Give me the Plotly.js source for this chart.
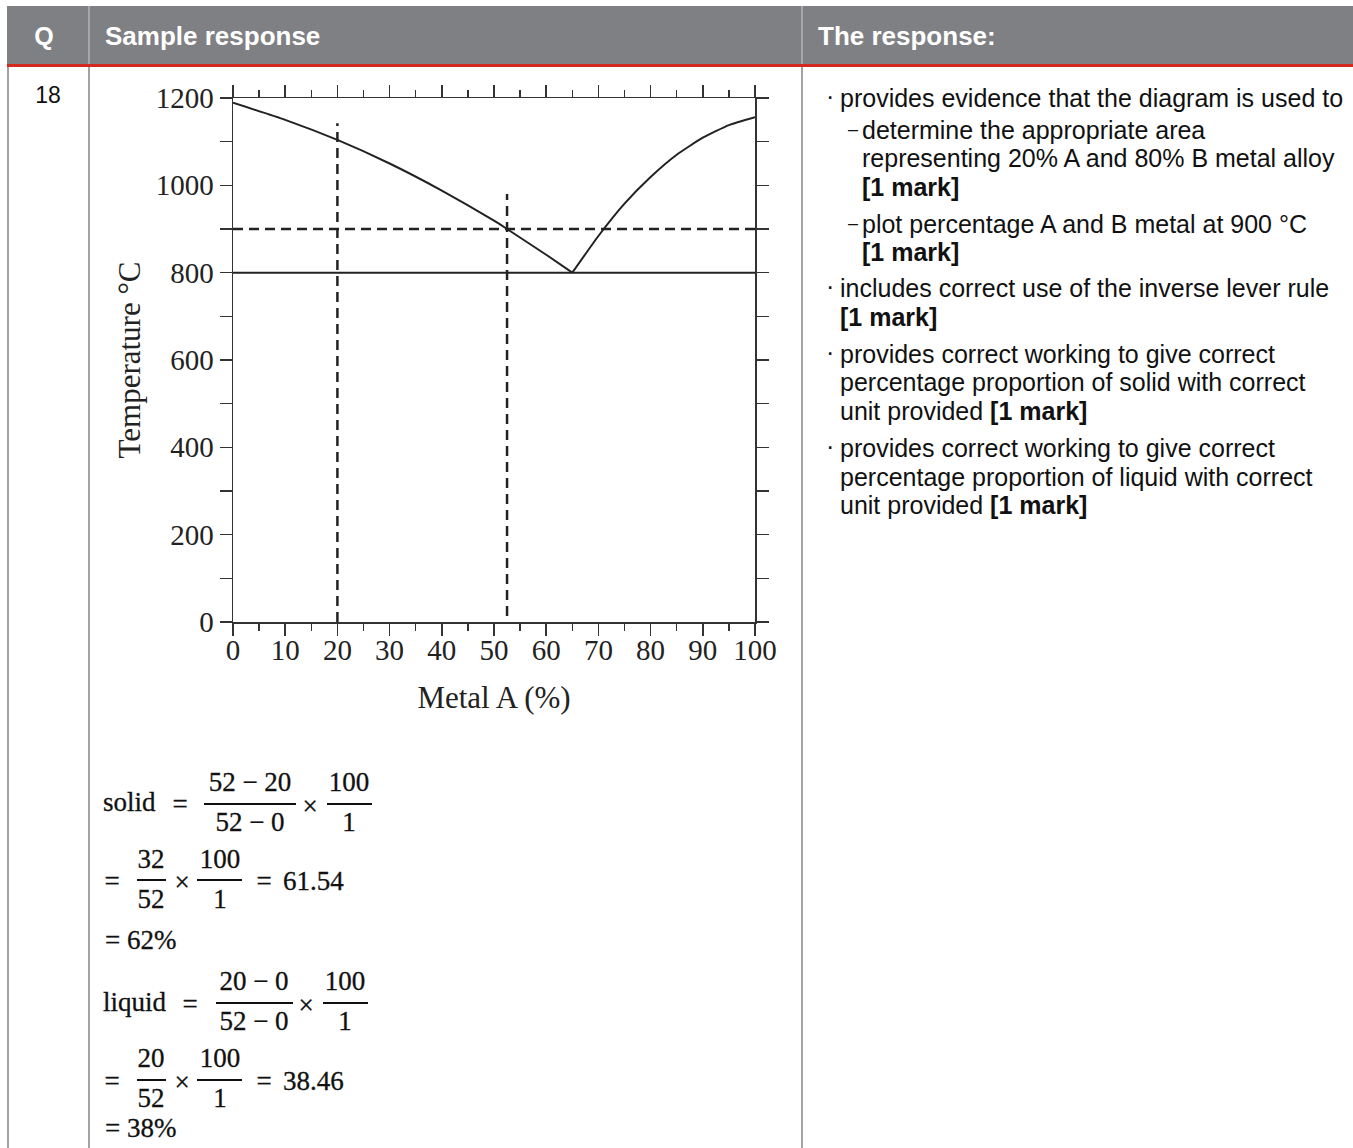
<!DOCTYPE html>
<html><head><meta charset="utf-8">
<script src="https://cdn.plot.ly/plotly-3.0.1.min.js"></script>
<style>
body{margin:0;background:#fff;width:1353px;height:1148px;overflow:hidden;position:relative;font-family:'Liberation Sans',Arial,sans-serif;color:#111;}
.abs{position:absolute;white-space:nowrap;}
.bar{position:absolute;background:#111;height:1.5px;}
</style></head><body>
<div style="position:absolute;left:7px;top:6px;width:1346px;height:58px;background:#7f8084;"></div>
<div style="position:absolute;left:7px;top:64px;width:1346px;height:3px;background:#d4291f;"></div>
<div style="position:absolute;left:88px;top:6px;width:2px;height:58px;background:#a6a7aa;"></div>
<div style="position:absolute;left:801px;top:6px;width:2px;height:58px;background:#a6a7aa;"></div>
<div style="position:absolute;left:7px;top:67px;width:2px;height:1081px;background:#a3a3a6;"></div>
<div style="position:absolute;left:88px;top:67px;width:2px;height:1081px;background:#a3a3a6;"></div>
<div style="position:absolute;left:801px;top:67px;width:2px;height:1081px;background:#a3a3a6;"></div>
<div id="chart" style="position:absolute;left:90px;top:70px;width:710px;height:670px;"></div>
<div id="txt"></div>
<script>
// ---- chart data ----
const liquidusLeftX = [0, 10, 20, 30, 40, 50, 52.5, 60, 65];
const liquidusLeftY = [1189, 1150, 1104, 1050, 988, 919, 900, 841, 800];
const liquidusRightX = [65, 70, 75, 80, 85, 90, 95, 100];
const liquidusRightY = [800, 884, 958, 1019, 1070, 1109, 1138, 1156];
const solidusX = [0, 100];
const solidusY = [800, 800];
const isothermX = [0, 100];
const isothermY = [900, 900];
const alloyLineX = [20, 20];
const alloyLineY = [0, 1142];
const liquidLineX = [52.5, 52.5];
const liquidLineY = [14, 980];
const xTickVals = [0, 10, 20, 30, 40, 50, 60, 70, 80, 90, 100];
const yTickVals = [0, 200, 400, 600, 800, 1000, 1200];

const ink = '#222';
const serif = "'Liberation Serif', 'Times New Roman', serif";
const solid = {color: ink, width: 2};
const dashed = {color: ink, width: 2.5, dash: '10px,6px'};

const traces = [
  {x: liquidusLeftX, y: liquidusLeftY, mode: 'lines', line: Object.assign({shape: 'spline', smoothing: 0.5}, solid)},
  {x: liquidusRightX, y: liquidusRightY, mode: 'lines', line: Object.assign({shape: 'spline', smoothing: 0.5}, solid)},
  {x: solidusX, y: solidusY, mode: 'lines', line: solid},
  {x: isothermX, y: isothermY, mode: 'lines', line: dashed},
  {x: alloyLineX, y: alloyLineY, mode: 'lines', line: dashed},
  {x: liquidLineX, y: liquidLineY, mode: 'lines', line: dashed}
];

const axisCommon = {
  showline: true, linecolor: '#333', linewidth: 1.5, mirror: 'allticks',
  ticks: 'outside', ticklen: 12, tickwidth: 1.5, tickcolor: '#333',
  showgrid: false, zeroline: false, fixedrange: true,
  tickfont: {family: serif, size: 29, color: ink}
};

const layout = {
  width: 710, height: 670,
  margin: {l: 143, r: 45, t: 28, b: 118},
  paper_bgcolor: 'rgba(0,0,0,0)', plot_bgcolor: 'rgba(0,0,0,0)',
  showlegend: false, hovermode: false,
  xaxis: Object.assign({}, axisCommon, {
    range: [0, 100], tickmode: 'array', tickvals: xTickVals, ticklabelstandoff: -10,
    minor: {dtick: 5, tick0: 0, ticks: 'outside', ticklen: 7, tickwidth: 1.5, tickcolor: '#333', showgrid: false},
    title: {text: 'Metal A (%)', font: {family: serif, size: 31, color: ink}, standoff: 21}
  }),
  yaxis: Object.assign({}, axisCommon, {
    range: [0, 1200], tickmode: 'array', tickvals: yTickVals,
    minor: {dtick: 100, tick0: 0, ticks: 'outside', ticklen: 12, tickwidth: 1.5, tickcolor: '#333', showgrid: false},
    title: {text: 'Temperature °C', font: {family: serif, size: 31, color: ink}, standoff: 6}
  })
};
Plotly.newPlot('chart', traces, layout, {staticPlot: true, displayModeBar: false});

// ---- table text ----
const host = document.getElementById('txt');
function put(html, x, yc, o) {
  o = o || {};
  const size = o.size || 25;
  const d = document.createElement('div');
  d.className = 'abs';
  d.innerHTML = html;
  d.style.fontFamily = o.family || "'Liberation Sans', Arial, sans-serif";
  d.style.fontSize = size + 'px';
  d.style.lineHeight = size + 'px';
  d.style.fontWeight = o.weight || 'normal';
  d.style.color = o.color || '#111';
  if (o.stroke) d.style.webkitTextStroke = o.stroke + 'px #111';
  d.style.top = (yc - size * 0.5) + 'px';
  if (o.center) { d.style.left = (x - 150) + 'px'; d.style.width = '300px'; d.style.textAlign = 'center'; }
  else d.style.left = x + 'px';
  host.appendChild(d);
}
function bar(x1, x2, y) {
  const d = document.createElement('div');
  d.className = 'bar';
  d.style.left = x1 + 'px'; d.style.width = (x2 - x1) + 'px'; d.style.top = (y - 0.75) + 'px';
  host.appendChild(d);
}
// header
put('Q', 44, 36, {size: 25, weight: 'bold', color: '#fff', center: true});
put('Sample response', 105, 36, {size: 26, weight: 'bold', color: '#fff'});
put('The response:', 818, 36, {size: 26, weight: 'bold', color: '#fff'});
put('18', 48, 95, {size: 23, center: true});

// right column
const R = {size: 25};
const D = {size: 18};
put('·', 826, 96, R); put('provides evidence that the diagram is used to', 840, 98, R);
put('–', 848, 129, D); put('determine the appropriate area', 862, 130, R);
put('representing 20% A and 80% B metal alloy', 862, 158, R);
put('<b>[1 mark]</b>', 862, 187, R);
put('–', 848, 223, D); put('plot percentage A and B metal at 900 °C', 862, 224, R);
put('<b>[1 mark]</b>', 862, 252, R);
put('·', 826, 286, R); put('includes correct use of the inverse lever rule', 840, 288, R);
put('<b>[1 mark]</b>', 840, 317, R);
put('·', 826, 352, R); put('provides correct working to give correct', 840, 354, R);
put('percentage proportion of solid with correct', 840, 382, R);
put('unit provided <b>[1 mark]</b>', 840, 411, R);
put('·', 826, 446, R); put('provides correct working to give correct', 840, 448, R);
put('percentage proportion of liquid with correct', 840, 477, R);
put('unit provided <b>[1 mark]</b>', 840, 505, R);

// working (math)
const M = {size: 27, family: serif, stroke: 0.3};
const MC = {size: 27, family: serif, stroke: 0.3, center: true};
put('solid', 103, 802, M); put('=', 180, 804, MC);
put('52 − 20', 250, 782, MC); bar(204, 296, 804); put('52 − 0', 250, 822, MC);
put('×', 310, 806, MC);
put('100', 349, 782, MC); bar(327, 372, 804); put('1', 349, 822, MC);

put('=', 112, 881, MC);
put('32', 151, 859, MC); bar(137, 166, 880); put('52', 151, 899, MC);
put('×', 182, 882, MC);
put('100', 220, 859, MC); bar(197, 242, 880); put('1', 220, 899, MC);
put('=', 264, 881, MC); put('61.54', 283, 881, M);

put('= 62%', 105, 940, M);

put('liquid', 103, 1002, M); put('=', 190, 1004, MC);
put('20 − 0', 254, 981, MC); bar(216, 293, 1003); put('52 − 0', 254, 1021, MC);
put('×', 306, 1005, MC);
put('100', 345, 981, MC); bar(323, 368, 1003); put('1', 345, 1021, MC);

put('=', 112, 1081, MC);
put('20', 151, 1058, MC); bar(137, 166, 1080); put('52', 151, 1098, MC);
put('×', 182, 1082, MC);
put('100', 220, 1058, MC); bar(197, 242, 1080); put('1', 220, 1098, MC);
put('=', 264, 1081, MC); put('38.46', 283, 1081, M);

put('= 38%', 105, 1128, M);
</script>
</body></html>
